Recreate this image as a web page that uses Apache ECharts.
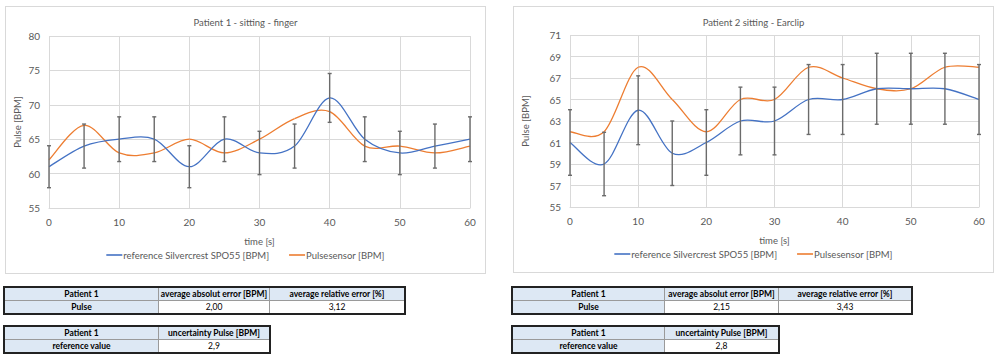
<!DOCTYPE html>
<html>
<head>
<meta charset="utf-8">
<script src="https://cdn.jsdelivr.net/npm/echarts@6/dist/echarts.min.js"></script>
<style>
  html, body { margin:0; padding:0; background:#fff; width:1000px; height:355px; overflow:hidden; font-family: Lato, "Open Sans", sans-serif; }
  .chart { position:absolute; border:1px solid #d9d9d9; box-sizing:border-box; background:#fff; }
  table.t { position:absolute; border-collapse:collapse; font-family: Lato, sans-serif; font-size:8.5px; font-weight:bold; color:#000; }
  table.t td { border:1px solid #9a9a9a; height:12px; padding:0; text-align:center; line-height:11px; white-space:nowrap; }
  table.t td.h { background:#dde8f4; }
  table.t td.v { font-weight:normal; background:#fff; }
  table.t { outline:2px solid #222; outline-offset:-1px; }
</style>
</head>
<body>
<div id="c1" class="chart" style="left:5px;top:6px;width:481px;height:268px;"></div>
<div id="c2" class="chart" style="left:513px;top:6px;width:481px;height:267px;"></div>
<div id="tables"></div>
<script>
// ---- data ----
const timeS = [0, 5, 10, 15, 20, 25, 30, 35, 40, 45, 50, 55, 60];
const p1Reference = [61, 64, 65, 65, 61, 65, 63, 64, 71, 65, 63, 64, 65];
const p1Sensor    = [62, 67, 63, 63, 65, 63, 65, 68, 69, 64, 64, 63, 64];
const p2Reference = [61, 59, 64, 60, 61, 63, 63, 65, 65, 66, 66, 66, 65];
const p2Sensor    = [62, 62, 68, 65, 62, 65, 65, 68, 67, 66, 66, 68, 68];
const errorPercent = 5; // Excel percentage error bars on the reference series
const seriesNames = ['reference Silvercrest SPO55 [BPM]', 'Pulsesensor [BPM]'];
const titles = ['Patient 1 - sitting - finger', 'Patient 2 sitting - Earclip'];
const yTicks1 = { min: 55, max: 80, interval: 5 };
const yTicks2 = { min: 55, max: 71, interval: 2 };
const tableRows = [
  { patient: 'Patient 1', absErr: '2,00', relErr: '3,12', uncert: '2,9' },
  { patient: 'Patient 1', absErr: '2,15', relErr: '3,43', uncert: '2,8' }
];
const tableHeaders = ['average absolut error [BPM]', 'average relative error [%]', 'uncertainty Pulse [BPM]', 'Pulse', 'reference value'];

const FONT = 'Lato, "Open Sans", sans-serif';
const TXT = '#595959';
const BLUE = '#4472c4', ORANGE = '#ed7d31';

// Excel-like smoothed line (Catmull-Rom bezier segments) drawn through the axes' coordinate system
function splineSeries(name, values, color, z) {
  return {
    name: name, type: 'custom', z: z, silent: true, color: color,
    itemStyle: { color: color },
    data: timeS.map((t, i) => [t, values[i]]),
    renderItem: function (params, api) {
      const i = params.dataIndex;
      const n = timeS.length;
      if (i >= n - 1) return null;
      const P = k => api.coord([timeS[Math.max(0, Math.min(n - 1, k))], values[Math.max(0, Math.min(n - 1, k))]]);
      const p0 = P(i - 1), p1 = P(i), p2 = P(i + 1), p3 = P(i + 2);
      return {
        type: 'bezierCurve',
        shape: {
          x1: p1[0], y1: p1[1], x2: p2[0], y2: p2[1],
          cpx1: p1[0] + (p2[0] - p0[0]) / 6, cpy1: p1[1] + (p2[1] - p0[1]) / 6,
          cpx2: p2[0] - (p3[0] - p1[0]) / 6, cpy2: p2[1] - (p3[1] - p1[1]) / 6
        },
        style: { stroke: color, lineWidth: 1.3, fill: null }
      };
    }
  };
}

function makeOption(title, ref, sens, yt, grid, yNameGap) {
  const errData = timeS.map((t, i) => [t, ref[i] * (1 - errorPercent / 100), ref[i] * (1 + errorPercent / 100)]);
  return {
    animation: false,
    textStyle: { fontFamily: FONT },
    title: { text: title, left: 'center', top: 5, textStyle: { fontFamily: FONT, fontSize: 9.5, fontWeight: 'normal', color: TXT } },
    grid: Object.assign({ outerBoundsMode: 'none', containLabel: false }, grid),
    legend: {
      data: [
        { name: seriesNames[0], icon: 'rect', itemStyle: { color: BLUE } },
        { name: seriesNames[1], icon: 'rect', itemStyle: { color: ORANGE } }
      ],
      bottom: 8, left: 'center', itemWidth: 16, itemHeight: 1.6, itemGap: 20,
      textStyle: { fontFamily: FONT, fontSize: 9.5, color: TXT, padding: [0, 0, 0, -4] }
    },
    xAxis: {
      type: 'value', min: 0, max: 60, interval: 10,
      name: 'time [s]', nameLocation: 'middle', nameGap: 28, nameMoveOverlap: false,
      nameTextStyle: { fontFamily: FONT, fontSize: 9.5, color: TXT },
      axisLine: { show: true, lineStyle: { color: '#d9d9d9' } },
      axisTick: { show: false },
      axisLabel: { fontFamily: FONT, fontSize: 10, color: TXT, margin: 9 },
      splitLine: { show: true, lineStyle: { color: '#d9d9d9', width: 1 } }
    },
    yAxis: {
      type: 'value', min: yt.min, max: yt.max, interval: yt.interval,
      name: 'Pulse [BPM]', nameLocation: 'middle', nameGap: yNameGap, nameRotate: 90, nameMoveOverlap: false,
      nameTextStyle: { fontFamily: FONT, fontSize: 9.5, color: TXT },
      axisLine: { show: false }, axisTick: { show: false },
      axisLabel: { fontFamily: FONT, fontSize: 10, color: TXT, margin: 9 },
      splitLine: { show: true, lineStyle: { color: '#d9d9d9', width: 1 } }
    },
    series: [
      splineSeries(seriesNames[1], sens, ORANGE, 2),
      splineSeries(seriesNames[0], ref, BLUE, 3),
      { name: 'err', type: 'custom', data: errData, z: 4, silent: true,
        renderItem: function (params, api) {
          const x = api.value(0);
          const lo = api.coord([x, api.value(1)]);
          const hi = api.coord([x, api.value(2)]);
          const c = 2;
          const st = { stroke: '#6b6b6b', lineWidth: 1.4, fill: null };
          return { type: 'group', children: [
            { type: 'line', shape: { x1: hi[0], y1: hi[1], x2: lo[0], y2: lo[1] }, style: st },
            { type: 'line', shape: { x1: hi[0] - c, y1: hi[1], x2: hi[0] + c, y2: hi[1] }, style: st },
            { type: 'line', shape: { x1: lo[0] - c, y1: lo[1], x2: lo[0] + c, y2: lo[1] }, style: st }
          ]};
        } }
    ]
  };
}

const c1 = echarts.init(document.getElementById('c1'), null, { renderer: 'svg' });
c1.setOption(makeOption(titles[0], p1Reference, p1Sensor, yTicks1, { left: 43, right: 15, top: 29, bottom: 65 }, 27));
const c2 = echarts.init(document.getElementById('c2'), null, { renderer: 'svg' });
c2.setOption(makeOption(titles[1], p2Reference, p2Sensor, yTicks2, { left: 56, right: 14, top: 28, bottom: 65 }, 40));

// ---- tables ----
function buildTables(row, left, c1w, c2w, c3w) {
  const holder = document.getElementById('tables');
  const t1 = document.createElement('table');
  t1.className = 't';
  t1.style.left = left + 'px'; t1.style.top = '287px';
  t1.innerHTML =
    '<colgroup><col style="width:' + c1w + 'px"><col style="width:' + c2w + 'px"><col style="width:' + c3w + 'px"></colgroup>' +
    '<tr><td class="h">' + row.patient + '</td><td class="h">' + tableHeaders[0] + '</td><td class="h">' + tableHeaders[1] + '</td></tr>' +
    '<tr><td class="h">' + tableHeaders[3] + '</td><td class="v">' + row.absErr + '</td><td class="v">' + row.relErr + '</td></tr>';
  holder.appendChild(t1);
  const t2 = document.createElement('table');
  t2.className = 't';
  t2.style.left = left + 'px'; t2.style.top = '326px';
  t2.innerHTML =
    '<colgroup><col style="width:' + c1w + 'px"><col style="width:' + c2w + 'px"></colgroup>' +
    '<tr><td class="h">' + row.patient + '</td><td class="h">' + tableHeaders[2] + '</td></tr>' +
    '<tr><td class="h">' + tableHeaders[4] + '</td><td class="v">' + row.uncert + '</td></tr>';
  holder.appendChild(t2);
}
buildTables(tableRows[0], 4, 154, 111, 135);
buildTables(tableRows[1], 512, 152, 114, 133);
</script>
</body>
</html>
